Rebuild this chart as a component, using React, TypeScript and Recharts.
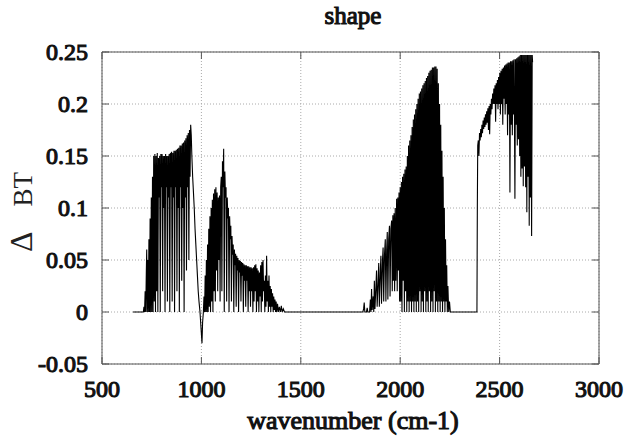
import React from 'react';
import { LineChart, Line, XAxis, YAxis, CartesianGrid } from 'recharts';

const chartTitle = 'shape';
const xLabel = 'wavenumber (cm-1)';
const xTicks = [500, 1000, 1500, 2000, 2500, 3000];
const yTicks = [-0.05, 0, 0.05, 0.1, 0.15, 0.2, 0.25];

// [wavenumber, delta BT]
const bandA: [number, number][] = [
  [656, 0], [700, 0], [708, 0], [711, 0.005], [714, 0], [717, 0.02], [720, 0], [723, 0.04], [725, 0.06], [727, 0],
  [730, 0.05], [733, 0], [736, 0.07], [739, 0], [742, 0.09], [745, 0], [748, 0.11], [751, 0], [754, 0.13], [757, 0],
  [760, 0.15], [763, 0.01], [766, 0.152], [769, 0], [772, 0.15], [775, 0.02], [778, 0.153], [781, 0], [784, 0.148], [787, 0.11],
  [790, 0.15], [793, 0], [796, 0.152], [799, 0.12], [802, 0.152], [805, 0.02], [808, 0.15], [811, 0.1], [814, 0.15], [817, 0],
  [820, 0.152], [823, 0.12], [826, 0.15], [829, 0.01], [832, 0.15], [835, 0.11], [838, 0.152], [841, 0], [844, 0.153], [847, 0.12],
  [850, 0.154], [853, 0.01], [856, 0.153], [859, 0.11], [862, 0.155], [865, 0], [868, 0.155], [871, 0.12], [874, 0.156], [877, 0.02],
  [880, 0.157], [883, 0.1], [886, 0.158], [889, 0], [892, 0.16], [895, 0.12], [898, 0.16], [901, 0.03], [904, 0.162], [907, 0.1],
  [910, 0.163], [913, 0], [916, 0.165], [919, 0.11], [922, 0.167], [925, 0.04], [928, 0.17], [931, 0.12], [934, 0.172], [937, 0.05],
  [940, 0.175], [943, 0.13], [946, 0.18], [949, 0.17], [952, 0.15], [956, 0.13], [960, 0.115], [964, 0.1], [968, 0.08], [972, 0.065],
  [976, 0.05], [980, 0.035], [984, 0.02], [988, 0.01], [993, 0], [998, -0.015], [1003, -0.03],
];

const bandB: [number, number][] = [
  [1006, -0.01], [1010, 0], [1013, 0.015], [1016, 0], [1019, 0.035], [1022, 0], [1025, 0.05], [1028, 0], [1031, 0.065], [1034, 0],
  [1037, 0.08], [1040, 0.005], [1043, 0.092], [1046, 0], [1049, 0.1], [1052, 0.01], [1055, 0.108], [1058, 0], [1061, 0.114], [1064, 0.02],
  [1067, 0.118], [1070, 0.01], [1073, 0.12], [1076, 0.04], [1079, 0.115], [1082, 0.02], [1085, 0.11], [1088, 0.05], [1091, 0.112], [1094, 0.01],
  [1097, 0.12], [1100, 0.13], [1103, 0.02], [1106, 0.145], [1109, 0.12], [1112, 0.157], [1115, 0], [1118, 0.135], [1121, 0.11], [1124, 0.12],
  [1127, 0.01], [1130, 0.11], [1133, 0.09], [1136, 0.1], [1139, 0], [1142, 0.092], [1145, 0.07], [1148, 0.083], [1151, 0.01], [1154, 0.073],
  [1157, 0.055], [1160, 0.065], [1163, 0], [1166, 0.06], [1169, 0.045], [1172, 0.056], [1175, 0.005], [1178, 0.054], [1181, 0.04], [1184, 0.052],
  [1187, 0], [1190, 0.05], [1193, 0.038], [1196, 0.049], [1199, 0.01], [1202, 0.048], [1205, 0.035], [1208, 0.047], [1211, 0], [1214, 0.046],
  [1217, 0.03], [1220, 0.045], [1223, 0.005], [1226, 0.045], [1229, 0.03], [1232, 0.044], [1235, 0], [1238, 0.044], [1241, 0.02], [1244, 0.043],
  [1247, 0.005], [1250, 0.043], [1253, 0.02], [1256, 0.042], [1259, 0], [1262, 0.043], [1265, 0.01], [1268, 0.045], [1271, 0.02], [1274, 0.046],
  [1277, 0], [1280, 0.042], [1283, 0.01], [1286, 0.04], [1289, 0], [1292, 0.038], [1295, 0.015], [1298, 0.045], [1301, 0], [1304, 0.048],
  [1307, 0.01], [1310, 0.05], [1313, 0.02], [1316, 0.03], [1319, 0], [1322, 0.035], [1325, 0.005], [1328, 0.054], [1331, 0.01], [1334, 0.03],
  [1337, 0], [1340, 0.035], [1343, 0.005], [1346, 0.025], [1349, 0], [1352, 0.022], [1355, 0.005], [1358, 0.018], [1361, 0], [1364, 0.015],
  [1367, 0.002], [1370, 0.012], [1373, 0], [1376, 0.01], [1379, 0], [1383, 0.008], [1387, 0], [1392, 0.005], [1397, 0], [1402, 0.006],
  [1406, 0], [1412, 0.003], [1418, 0],
];

const gapMid: [number, number][] = [[1600, 0], [1800, 0]];

const bandC: [number, number][] = [
  [1812, 0], [1816, 0.003], [1819, 0.009], [1822, 0], [1830, 0], [1834, 0.004], [1837, 0], [1846, 0], [1850, 0.012], [1853, 0],
  [1856, 0.022], [1859, 0.002], [1864, 0.015], [1867, 0], [1870, 0.03], [1873, 0.003], [1878, 0.025], [1881, 0.04], [1884, 0.005], [1889, 0.03],
  [1892, 0.047], [1895, 0.005], [1900, 0.04], [1903, 0.054], [1906, 0.008], [1911, 0.05], [1914, 0.062], [1917, 0.01], [1921, 0.055], [1925, 0.07],
  [1928, 0.01], [1932, 0.06], [1935, 0.077], [1938, 0.012], [1942, 0.07], [1946, 0.083], [1949, 0.015], [1953, 0.08], [1957, 0.088], [1960, 0.02],
  [1963, 0.093], [1966, 0.03], [1969, 0.095], [1972, 0.02], [1975, 0.1], [1978, 0.03], [1982, 0.109], [1985, 0.02], [1988, 0.11], [1991, 0.04],
  [1994, 0.115], [1997, 0.01], [2000, 0.12], [2003, 0.01], [2006, 0.125], [2009, 0], [2012, 0.13], [2015, 0.03], [2018, 0.133], [2021, 0],
  [2024, 0.137], [2027, 0.02], [2030, 0.14], [2033, 0], [2036, 0.15], [2039, 0.01], [2042, 0.16], [2045, 0], [2048, 0.165], [2051, 0.01],
  [2054, 0.17], [2057, 0], [2060, 0.178], [2063, 0.01], [2066, 0.185], [2069, 0], [2072, 0.19], [2075, 0.01], [2078, 0.195], [2081, 0],
  [2084, 0.2], [2087, 0.01], [2090, 0.205], [2093, 0], [2096, 0.21], [2099, 0.02], [2102, 0.212], [2105, 0], [2108, 0.215], [2111, 0.01],
  [2114, 0.218], [2117, 0], [2120, 0.22], [2123, 0.02], [2126, 0.222], [2129, 0], [2132, 0.225], [2135, 0.01], [2138, 0.227], [2141, 0],
  [2144, 0.23], [2147, 0.02], [2150, 0.232], [2153, 0], [2156, 0.233], [2159, 0.01], [2162, 0.235], [2165, 0], [2168, 0.235], [2171, 0.02],
  [2174, 0.236], [2177, 0], [2180, 0.236], [2183, 0.01], [2186, 0.234], [2189, 0], [2192, 0.22], [2195, 0.01], [2198, 0.2], [2201, 0],
  [2204, 0.18], [2207, 0.01], [2210, 0.155], [2213, 0], [2216, 0.13], [2219, 0.01], [2222, 0.1], [2225, 0], [2228, 0.07], [2231, 0.01],
  [2234, 0.045], [2237, 0], [2240, 0.025], [2244, 0], [2248, 0.01], [2252, 0],
];

const gapHigh: [number, number][] = [[2300, 0], [2384, 0]];

const bandD: [number, number][] = [
  [2386, 0], [2388, 0.1], [2390, 0.16], [2393, 0.165], [2396, 0.15], [2399, 0.172], [2402, 0.165], [2405, 0.176], [2408, 0.168], [2411, 0.18],
  [2414, 0.172], [2417, 0.184], [2420, 0.176], [2423, 0.187], [2426, 0.178], [2429, 0.19], [2432, 0.18], [2435, 0.193], [2438, 0.182], [2441, 0.196],
  [2444, 0.175], [2447, 0.198], [2450, 0.171], [2453, 0.2], [2456, 0.19], [2459, 0.205], [2462, 0.195], [2465, 0.21], [2468, 0.2], [2471, 0.215],
  [2474, 0.2], [2477, 0.218], [2480, 0.183], [2483, 0.22], [2486, 0.2], [2489, 0.223], [2492, 0.195], [2495, 0.226], [2498, 0.2], [2501, 0.23],
  [2504, 0.19], [2507, 0.232], [2510, 0.2], [2513, 0.234], [2516, 0.18], [2519, 0.235], [2522, 0.205], [2525, 0.237], [2528, 0.19], [2531, 0.238],
  [2534, 0.2], [2537, 0.239], [2540, 0.17], [2543, 0.24], [2546, 0.19], [2549, 0.24], [2552, 0.115], [2555, 0.241], [2558, 0.18], [2561, 0.241],
  [2564, 0.17], [2567, 0.242], [2570, 0.19], [2573, 0.243], [2577, 0.109], [2580, 0.243], [2583, 0.18], [2586, 0.244], [2589, 0.16], [2592, 0.245],
  [2595, 0.166], [2598, 0.246], [2601, 0.15], [2604, 0.247], [2607, 0.13], [2610, 0.247], [2613, 0.138], [2616, 0.247], [2619, 0.121], [2622, 0.247],
  [2625, 0.14], [2628, 0.247], [2631, 0.12], [2634, 0.247], [2637, 0.096], [2640, 0.247], [2643, 0.13], [2646, 0.247], [2649, 0.083], [2652, 0.247],
  [2655, 0.11], [2658, 0.247], [2661, 0.073], [2664, 0.247], [2666, 0.24],
];

const data = [...bandA, ...bandB, ...gapMid, ...bandC, ...gapHigh, ...bandD].map(([wn, bt]) => ({ wn, bt }));

const FONT = '"Liberation Serif", "Times New Roman", Times, serif';
const FRAME = '#555';
const TICK_LEN = 7;
const INK = '#111';

// faux-bold serif text (the serif family has no bold face installed)
const boldProps = { fontFamily: FONT, fill: INK, stroke: INK, strokeWidth: 1.1 };

const BottomTick = (props: any) => {
  const { x, y, payload } = props;
  const v = payload.value;
  return (
    <g>
      <line x1={x} y1={y} x2={x} y2={y - TICK_LEN} stroke={FRAME} />
      <text x={x} y={y + 33} textAnchor="middle" fontSize={24} {...boldProps}>
        {String(v)}
      </text>
    </g>
  );
};

const TopTick = (props: any) => {
  const { x, y } = props;
  return <line x1={x} y1={y} x2={x} y2={y + TICK_LEN} stroke={FRAME} />;
};

const LeftTick = (props: any) => {
  const { x, y, payload } = props;
  const v = payload.value;
  return (
    <g>
      <line x1={x} y1={y} x2={x + TICK_LEN} y2={y} stroke={FRAME} />
      <text x={x - 14} y={y + 8} textAnchor="end" fontSize={24} {...boldProps}>
        {String(v)}
      </text>
    </g>
  );
};

const RightTick = (props: any) => {
  const { x, y } = props;
  return <line x1={x} y1={y} x2={x - TICK_LEN} y2={y} stroke={FRAME} />;
};

export default function App() {
  return (
    <div style={{ position: 'absolute', left: 0, top: 0, width: 626, height: 441, background: '#fff' }}>
      <LineChart width={626} height={441} data={data} margin={{ top: 0, right: 0, bottom: 0, left: 0 }}>
        <CartesianGrid xAxisId="b" yAxisId="l" stroke="#aaa" strokeDasharray="1 2" />
        <XAxis
          xAxisId="b"
          dataKey="wn"
          type="number"
          domain={[500, 3000]}
          ticks={xTicks}
          height={77}
          tickLine={false}
          tickSize={0}
          tickMargin={0}
          axisLine={{ stroke: FRAME }}
          tick={<BottomTick />}
          interval={0}
          allowDataOverflow
        />
        <XAxis
          xAxisId="t"
          orientation="top"
          dataKey="wn"
          type="number"
          domain={[500, 3000]}
          ticks={xTicks}
          height={52}
          tickLine={false}
          tickSize={0}
          tickMargin={0}
          axisLine={{ stroke: FRAME }}
          tick={<TopTick />}
          interval={0}
          allowDataOverflow
        />
        <YAxis
          yAxisId="l"
          type="number"
          domain={[-0.05, 0.25]}
          ticks={yTicks}
          width={102}
          tickLine={false}
          tickSize={0}
          tickMargin={0}
          axisLine={{ stroke: FRAME }}
          tick={<LeftTick />}
          interval={0}
          allowDataOverflow
        />
        <YAxis
          yAxisId="r"
          orientation="right"
          type="number"
          domain={[-0.05, 0.25]}
          ticks={yTicks}
          width={27}
          tickLine={false}
          tickSize={0}
          tickMargin={0}
          axisLine={{ stroke: FRAME }}
          tick={<RightTick />}
          interval={0}
          allowDataOverflow
        />
        <Line
          xAxisId="b"
          yAxisId="l"
          type="linear"
          dataKey="bt"
          stroke="#000"
          strokeWidth={1.1}
          dot={false}
          activeDot={false}
          isAnimationActive={false}
        />
      </LineChart>
      <svg width={626} height={441} style={{ position: 'absolute', left: 0, top: 0, pointerEvents: 'none' }}>
        <text x={353} y={24} textAnchor="middle" fontSize={25} {...boldProps}>
          {chartTitle}
        </text>
        <text x={353} y={429} textAnchor="middle" fontSize={26} {...boldProps}>
          {xLabel}
        </text>
        <text transform="rotate(-90, 32, 212)" x={32} y={212} textAnchor="middle" fontFamily={FONT} fill="#222">
          <tspan fontSize={32}>Δ</tspan>
          <tspan fontSize={27} dx={25}>BT</tspan>
        </text>
      </svg>
    </div>
  );
}
